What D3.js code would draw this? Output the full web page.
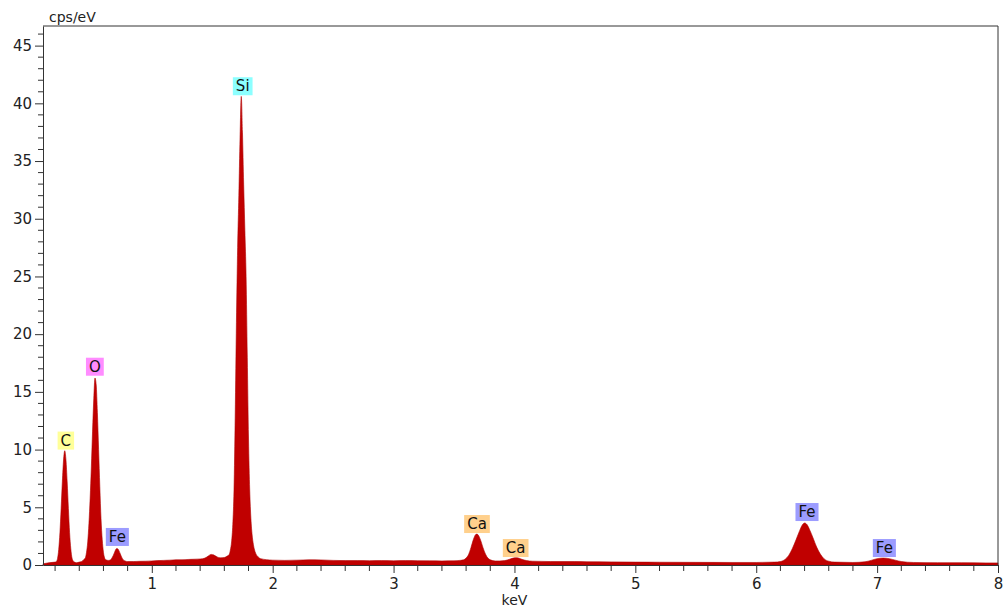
<!DOCTYPE html>
<html>
<head>
<meta charset="utf-8">
<script src="https://cdn.jsdelivr.net/npm/d3@7"></script>
<style>
  body { margin: 0; background: #fff; }
  svg { display: block; font-family: "DejaVu Sans", Verdana, sans-serif; }
</style>
</head>
<body>
<svg id="chart" width="1003" height="609"></svg>
<script>
// spectrum: energy (keV) and counts (cps/eV)
const spectrumKeV = [
  0.10, 0.15, 0.20, 0.21, 0.22, 0.23, 0.24, 0.25, 0.26, 0.27, 0.28, 0.29, 0.30, 0.31, 0.32, 0.33, 0.34, 0.35, 0.36,
  0.38, 0.40, 0.42, 0.44, 0.45, 0.46, 0.47, 0.48, 0.49, 0.50, 0.51, 0.52, 0.53, 0.54, 0.55, 0.56, 0.57, 0.58, 0.59,
  0.60, 0.61, 0.62, 0.64, 0.66, 0.67, 0.68, 0.69, 0.70, 0.71, 0.72, 0.73, 0.74, 0.75, 0.76, 0.78, 0.80,
  0.85, 0.90, 0.95, 1.00, 1.05, 1.10, 1.15, 1.20, 1.25, 1.30, 1.35, 1.40, 1.44, 1.47, 1.49, 1.51, 1.54, 1.57, 1.60,
  1.62, 1.64, 1.65, 1.66, 1.67, 1.68, 1.69, 1.70, 1.71, 1.72, 1.73, 1.74, 1.75, 1.76, 1.77, 1.78, 1.79, 1.80, 1.81,
  1.82, 1.83, 1.84, 1.85, 1.86, 1.88, 1.90,
  2.00, 2.10, 2.20, 2.30, 2.40, 2.50, 2.60, 2.70, 2.80, 2.90, 3.00, 3.10, 3.20, 3.30, 3.40, 3.50, 3.55,
  3.58, 3.60, 3.62, 3.64, 3.66, 3.68, 3.69, 3.70, 3.72, 3.74, 3.76, 3.78, 3.80, 3.84, 3.88,
  3.92, 3.96, 4.00, 4.02, 4.06, 4.10, 4.15,
  4.30, 4.50, 4.60, 4.80, 5.00, 5.20, 5.50, 5.80, 6.00, 6.15,
  6.20, 6.24, 6.27, 6.30, 6.33, 6.36, 6.38, 6.40, 6.42, 6.44, 6.47, 6.50, 6.53, 6.56, 6.60, 6.65,
  6.80, 6.90, 6.95, 7.00, 7.05, 7.10, 7.15, 7.20, 7.30, 7.50, 7.70, 7.90, 8.00
]
const spectrumCps = [
  0.10, 0.20, 0.25, 0.30, 0.55, 1.35, 2.80, 4.90, 7.20, 9.10, 9.90, 9.10, 7.20, 4.90, 2.80, 1.40, 0.60, 0.35, 0.25,
  0.20, 0.25, 0.30, 0.50, 0.60, 1.10, 2.00, 3.60, 5.80, 8.50, 11.6, 14.4, 16.2, 15.6, 13.2, 10.0, 6.80, 4.00, 2.20,
  1.10, 0.60, 0.45, 0.40, 0.45, 0.60, 0.80, 1.05, 1.30, 1.42, 1.38, 1.20, 0.95, 0.70, 0.50, 0.35, 0.30,
  0.30, 0.32, 0.33, 0.35, 0.38, 0.40, 0.42, 0.45, 0.45, 0.48, 0.50, 0.52, 0.60, 0.80, 0.92, 0.88, 0.70, 0.62, 0.65,
  0.75, 0.90, 1.30, 2.00, 3.50, 6.50, 13.0, 21.0, 27.5, 32.0, 37.0, 40.6, 37.5, 33.0, 29.0, 25.0, 18.0, 11.0, 6.50,
  4.00, 2.60, 1.80, 1.30, 1.00, 0.70, 0.55,
  0.42, 0.40, 0.42, 0.45, 0.44, 0.40, 0.38, 0.38, 0.37, 0.38, 0.36, 0.38, 0.37, 0.36, 0.35, 0.36, 0.40,
  0.45, 0.60, 0.90, 1.50, 2.20, 2.65, 2.68, 2.60, 2.15, 1.50, 0.95, 0.60, 0.45, 0.35, 0.35,
  0.38, 0.50, 0.62, 0.63, 0.50, 0.38, 0.33,
  0.30, 0.30, 0.28, 0.27, 0.25, 0.24, 0.23, 0.22, 0.22, 0.25,
  0.30, 0.50, 0.85, 1.45, 2.20, 3.00, 3.45, 3.64, 3.50, 3.10, 2.35, 1.55, 0.95, 0.55, 0.33, 0.25,
  0.22, 0.28, 0.40, 0.55, 0.60, 0.55, 0.42, 0.30, 0.22, 0.20, 0.20, 0.18, 0.18
]

// element line labels: name, energy and the count level the tag sits on
const labelNames = ["C", "O", "Fe", "Si", "Ca", "Ca", "Fe", "Fe"]
const labelKeV = [0.289, 0.529, 0.715, 1.752, 3.69, 4.01, 6.42, 7.06]
const labelCps = [10.0, 16.4, 1.65, 40.7, 2.77, 0.69, 3.81, 0.69]

// axis ticks
const xMajorTicks = [1, 2, 3, 4, 5, 6, 7, 8]
const yMajorTicks = [0, 5, 10, 15, 20, 25, 30, 35, 40, 45]

// tag colours per element
const elementColor = { C: "#ffff99", O: "#ff8cff", Fe: "#9c9cff", Si: "#8cffff", Ca: "#ffd08c" }

const margin = { top: 26, right: 5, bottom: 44, left: 43 }
const svg = d3.select('#chart')
const width = +svg.attr('width') - margin.left - margin.right
const height = +svg.attr('height') - margin.top - margin.bottom

const x = d3.scaleLinear().domain([0.1, 8]).range([0, width])
const y = d3.scaleLinear().domain([0, 46.7]).range([height, 0])

const g = svg.append('g').attr('transform', `translate(${margin.left},${margin.top})`)

// spectrum as a filled area
const points = spectrumKeV.map((k, i) => [k, spectrumCps[i]])
const area = d3.area()
  .x(d => x(d[0]))
  .y0(y(0))
  .y1(d => y(d[1]))
  .curve(d3.curveMonotoneX)

g.append('path')
  .datum(points)
  .attr('d', area)
  .attr('fill', '#c00000')
  .attr('stroke', '#b00000')
  .attr('stroke-width', 0.6)

// frame: top and right
g.append('path')
  .attr('d', `M0,0H${width}V${height}`)
  .attr('fill', 'none')
  .attr('stroke', '#333')

// minor ticks every 0.2 keV and every 1 cps/eV
const xMinor = d3.range(0.2, 8.0001, 0.2).filter(v => Math.abs(v - Math.round(v)) > 0.01)
const yMinor = d3.range(1, 47, 1).filter(v => v % 5 !== 0)

const xAxis = g.append('g')
  .attr('transform', `translate(0,${height})`)
  .call(d3.axisBottom(x).tickValues(xMajorTicks).tickFormat(d3.format('d')).tickSize(8).tickSizeOuter(0).tickPadding(5))
xAxis.selectAll('.minor')
  .data(xMinor)
  .enter().append('line')
  .attr('class', 'minor')
  .attr('x1', d => x(d)).attr('x2', d => x(d))
  .attr('y1', 0).attr('y2', 6)
  .attr('stroke', '#333')

const yAxis = g.append('g')
  .call(d3.axisLeft(y).tickValues(yMajorTicks).tickSize(8).tickSizeOuter(0).tickPadding(3))
yAxis.selectAll('.minor')
  .data(yMinor)
  .enter().append('line')
  .attr('class', 'minor')
  .attr('x1', -5).attr('x2', 0)
  .attr('y1', d => y(d)).attr('y2', d => y(d))
  .attr('stroke', '#333')

svg.selectAll('.tick text').attr('font-size', 15).attr('fill', '#222').attr('font-family', '"DejaVu Sans", Verdana, sans-serif')
svg.selectAll('.domain, .tick line').attr('stroke', '#333')

// axis titles
svg.append('text')
  .attr('x', 49).attr('y', 22)
  .attr('font-size', 14).attr('fill', '#222')
  .text('cps/eV')
svg.append('text')
  .attr('x', margin.left + x(4.0)).attr('y', 605)
  .attr('text-anchor', 'middle')
  .attr('font-size', 14).attr('fill', '#222')
  .text('keV')

// element tags over the peaks
const tags = g.selectAll('.tag')
  .data(labelNames.map((n, i) => ({ name: n, keV: labelKeV[i], cps: labelCps[i] })))
  .enter().append('g')
  .attr('class', 'tag')
  .attr('transform', d => `translate(${x(d.keV)},${y(d.cps)})`)

tags.append('text')
  .attr('text-anchor', 'middle')
  .attr('y', -4)
  .attr('font-size', 15)
  .attr('fill', '#111')
  .text(d => d.name)

// size each box from its text
tags.each(function (d) {
  const t = d3.select(this).select('text')
  const w = t.node().getComputedTextLength() + 6
  d3.select(this).insert('rect', 'text')
    .attr('x', -w / 2).attr('y', -18)
    .attr('width', w).attr('height', 18)
    .attr('fill', elementColor[d.name])
})
</script>
</body>
</html>
